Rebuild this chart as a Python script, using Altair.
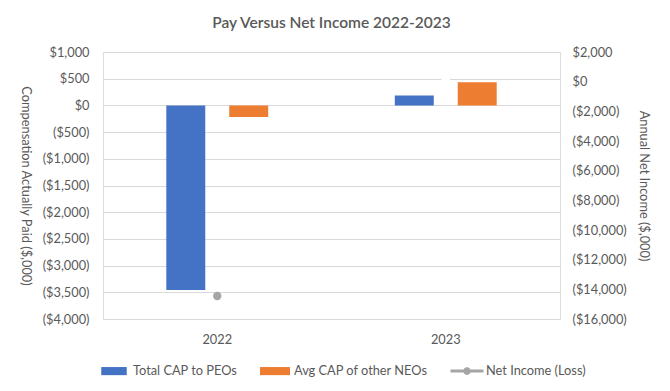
import altair as alt
import pandas as pd

years = ["2022", "2023"]
series_names = ["Total CAP to PEOs", "Avg CAP of other NEOs", "Net Income (Loss)"]
peo_cap = [-3458, 187]
neo_cap = [-218, 435]
net_income = [-14450, 150]

left_ticks = list(range(-4000, 1001, 500))
right_ticks = list(range(-16000, 2001, 2000))

colors = ["#4472C4", "#ED7D31", "#A5A5A5"]
blue_path = "M-0.85,-0.27H0.85V0.27H-0.85Z"
orange_path = "M-1,-0.27H1V0.27H-1Z"
line_dot_path = ("M-1.1,-0.1H-0.24V0.1H-1.1Z M0.24,-0.1H1.1V0.1H0.24Z "
                 "M0.26,0A0.26,0.26 0 1,1 -0.26,0A0.26,0.26 0 1,1 0.26,0Z")

bars_df = pd.DataFrame({
    "year": years * 2,
    "series": [series_names[0]] * 2 + [series_names[1]] * 2,
    "value": peo_cap + neo_cap,
})
ni_df = pd.DataFrame({
    "year": years,
    "series": [series_names[2]] * 2,
    "value": net_income,
})

FONT = "Lato"
TXT = "#595959"
FS = 12.8

color_scale = alt.Scale(domain=series_names, range=colors)
shape_scale = alt.Scale(domain=series_names, range=[blue_path, orange_path, line_dot_path])
legend = alt.Legend(orient="none", legendX=-4, legendY=304, direction="horizontal",
                    title=None, symbolSize=900, symbolStrokeWidth=0,
                    labelFontSize=FS, labelColor=TXT, labelFont=FONT, labelOffset=4,
                    columnPadding=22, labelLimit=0, symbolOpacity=1)

x_enc = alt.X("year:N", sort=years,
              scale=alt.Scale(paddingInner=0.554, paddingOuter=0.277),
              axis=alt.Axis(title=None, labelAngle=0, ticks=False, domain=False,
                            labelPadding=14, labelFontSize=FS, labelColor=TXT, labelFont=FONT))

label_expr = "datum.value < 0 ? '($' + format(-datum.value, ',') + ')' : '$' + format(datum.value, ',')"

left_axis = alt.Axis(values=left_ticks, grid=True, gridColor="#d9d9d9", domain=False, ticks=False,
                     labelExpr=label_expr,
                     labelPadding=14, labelFontSize=FS, labelColor=TXT, labelFont=FONT,
                     title="Compensation Actually Paid ($,000)", titleAngle=90,
                     titleFontSize=FS, titleFontWeight="normal", titleColor=TXT, titleFont=FONT,
                     titlePadding=24)
right_axis = alt.Axis(orient="right", values=right_ticks, grid=False, domain=False, ticks=False,
                      labelExpr=label_expr,
                      labelPadding=12, labelFontSize=FS, labelColor=TXT, labelFont=FONT,
                      title="Annual Net Income ($,000)", titleAngle=90,
                      titleFontSize=FS, titleFontWeight="normal", titleColor=TXT, titleFont=FONT,
                      titlePadding=10)

bars = alt.Chart(bars_df).mark_bar().encode(
    x=x_enc,
    xOffset=alt.XOffset("series:N", sort=series_names[:2],
                        scale=alt.Scale(domain=series_names[:2], paddingInner=0.381, paddingOuter=0)),
    y=alt.Y("value:Q", scale=alt.Scale(domain=[-4000, 1000], nice=False, zero=False), axis=left_axis),
    color=alt.Color("series:N", scale=color_scale, legend=legend),
)

points = alt.Chart(ni_df).mark_point(filled=True, size=70, opacity=1).encode(
    x=alt.X("year:N", sort=years),
    y=alt.Y("value:Q", scale=alt.Scale(domain=[-16000, 2000], nice=False, zero=False), axis=right_axis),
    color=alt.condition("datum.year == '2023'", alt.value("white"),
                        alt.Color("series:N", scale=color_scale, legend=legend)),
    shape=alt.condition("true", alt.value("circle"),
                        alt.Shape("series:N", scale=shape_scale, legend=legend)),
)

chart = alt.layer(bars, points).resolve_scale(y="independent").properties(
    width=457, height=267,
    title=alt.TitleParams("Pay Versus Net Income 2022-2023", fontSize=15.5, fontWeight=600,
                          color=TXT, font=FONT, offset=15, anchor="middle"),
    autosize=alt.AutoSizeParams(type="none"),
    padding={"left": 95, "top": 44, "right": 100, "bottom": 60},
).configure_view(stroke=None).configure(background="white")

chart.save("out.html", embed_options={"renderer": "svg", "actions": False})
